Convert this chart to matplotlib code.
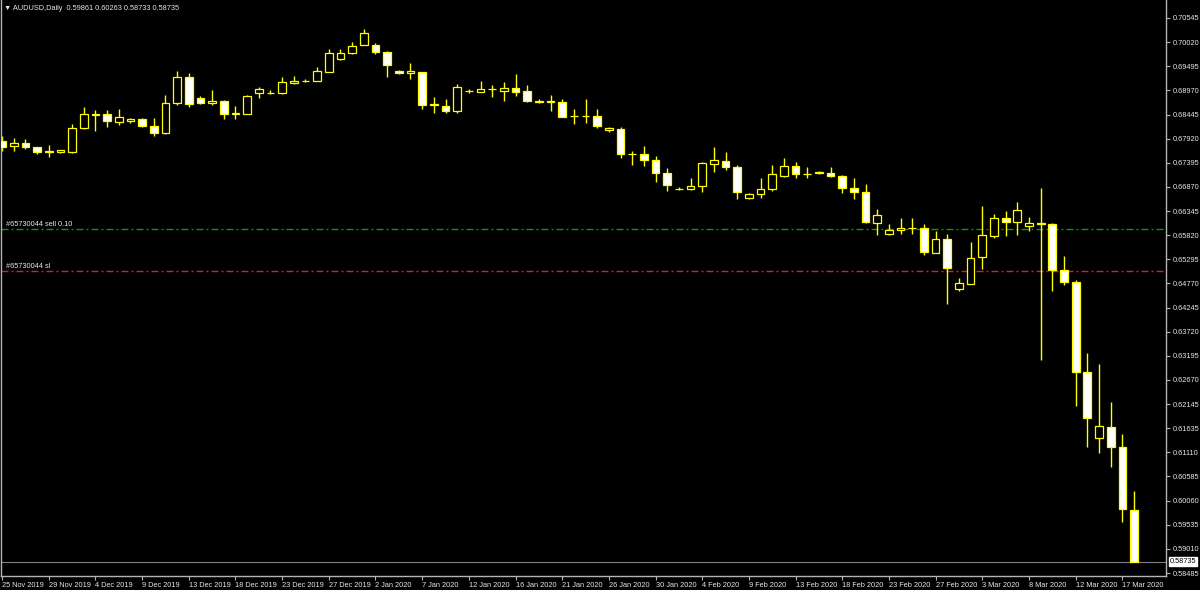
import numpy as np
import matplotlib
matplotlib.use('Agg')
import matplotlib.pyplot as plt

plt.rcParams['font.family'] = ['Liberation Sans', 'DejaVu Sans']

# daily AUDUSD bars, 25 Nov 2019 .. 18 Mar 2020 (broker shows Sunday bars)
opens = [0.67879, 0.67757, 0.67829, 0.67742, 0.67640, 0.67627, 0.67627, 0.68148, 0.68444, 0.68459,
         0.68291, 0.68300, 0.68344, 0.68205, 0.68052, 0.68691, 0.69269, 0.68806, 0.68691, 0.68748,
         0.68461, 0.68465, 0.68909, 0.68922, 0.68909, 0.69126, 0.69176, 0.69183, 0.69378, 0.69647,
         0.69784, 0.69965, 0.69952, 0.69806, 0.69393, 0.69343, 0.69365, 0.68676, 0.68633, 0.68517,
         0.68950, 0.68943, 0.68995, 0.68965, 0.69017, 0.68952, 0.68750, 0.68748, 0.68713, 0.68410,
         0.68405, 0.68409, 0.68111, 0.68139, 0.67590, 0.67583, 0.67453, 0.67170, 0.66835, 0.66836,
         0.66888, 0.67372, 0.67444, 0.67301, 0.66627, 0.66720, 0.66836, 0.67118, 0.67329, 0.67165,
         0.67170, 0.67170, 0.67111, 0.66851, 0.66764, 0.66097, 0.65845, 0.65938, 0.65985, 0.65982,
         0.65445, 0.65736, 0.64656, 0.64771, 0.65358, 0.65814, 0.66205, 0.66118, 0.66018, 0.66080,
         0.66062, 0.65069, 0.64802, 0.62859, 0.61412, 0.61664, 0.61223, 0.59861]
highs = [0.67981, 0.67931, 0.67909, 0.67750, 0.67779, 0.67676, 0.68241, 0.68604, 0.68546, 0.68546,
         0.68561, 0.68372, 0.68365, 0.68365, 0.68872, 0.69393, 0.69356, 0.68843, 0.68980, 0.68760,
         0.68633, 0.68872, 0.69052, 0.68987, 0.69269, 0.69285, 0.69213, 0.69480, 0.69865, 0.69878,
         0.70030, 0.70299, 0.70008, 0.69834, 0.69408, 0.69561, 0.69378, 0.68835, 0.68791, 0.69104,
         0.68996, 0.69176, 0.69089, 0.69161, 0.69321, 0.69089, 0.68778, 0.68872, 0.68791, 0.68561,
         0.68785, 0.68561, 0.68183, 0.68170, 0.67648, 0.67763, 0.67540, 0.67279, 0.66872, 0.67062,
         0.67416, 0.67735, 0.67633, 0.67351, 0.66749, 0.67062, 0.67351, 0.67496, 0.67422, 0.67301,
         0.67220, 0.67313, 0.67133, 0.67062, 0.66938, 0.66388, 0.66062, 0.66192, 0.66205, 0.66069,
         0.65910, 0.65845, 0.64889, 0.65671, 0.66453, 0.66279, 0.66351, 0.66553, 0.66227, 0.66844,
         0.66084, 0.65380, 0.64852, 0.63259, 0.63026, 0.62194, 0.61498, 0.60263]
lows = [0.67661, 0.67661, 0.67705, 0.67583, 0.67518, 0.67618, 0.67605, 0.68133, 0.68096, 0.68183,
        0.68213, 0.68257, 0.68170, 0.67981, 0.68024, 0.68654, 0.68604, 0.68670, 0.68654, 0.68357,
        0.68357, 0.68460, 0.68813, 0.68887, 0.68900, 0.69104, 0.69154, 0.69180, 0.69371, 0.69632,
        0.69756, 0.69952, 0.69756, 0.69269, 0.69334, 0.69219, 0.68561, 0.68474, 0.68474, 0.68487,
        0.68909, 0.68937, 0.68835, 0.68748, 0.68850, 0.68713, 0.68691, 0.68531, 0.68393, 0.68241,
        0.68270, 0.68148, 0.68074, 0.67496, 0.67351, 0.67329, 0.66975, 0.66792, 0.66814, 0.66807,
        0.66770, 0.67205, 0.67242, 0.66605, 0.66618, 0.66640, 0.66792, 0.67096, 0.67062, 0.67075,
        0.67155, 0.67096, 0.66735, 0.66618, 0.66090, 0.65829, 0.65829, 0.65851, 0.65851, 0.65401,
        0.65432, 0.64330, 0.64612, 0.64765, 0.65084, 0.65758, 0.65814, 0.65829, 0.65923, 0.63113,
        0.64619, 0.64743, 0.62120, 0.61229, 0.61085, 0.60795, 0.59586, 0.58733]
closes = [0.67735, 0.67822, 0.67742, 0.67640, 0.67645, 0.67670, 0.68154, 0.68452, 0.68450, 0.68313,
          0.68387, 0.68344, 0.68198, 0.68052, 0.68691, 0.69269, 0.68676, 0.68691, 0.68748, 0.68452,
          0.68470, 0.68843, 0.68996, 0.68909, 0.69148, 0.69183, 0.69180, 0.69393, 0.69778, 0.69778,
          0.69930, 0.70212, 0.69800, 0.69517, 0.69343, 0.69387, 0.68661, 0.68650, 0.68517, 0.69046,
          0.68963, 0.69002, 0.69000, 0.69017, 0.68943, 0.68741, 0.68720, 0.68722, 0.68401, 0.68405,
          0.68412, 0.68198, 0.68148, 0.67583, 0.67585, 0.67459, 0.67170, 0.66916, 0.66825, 0.66894,
          0.67401, 0.67453, 0.67313, 0.66757, 0.66727, 0.66836, 0.67148, 0.67329, 0.67155, 0.67160,
          0.67200, 0.67105, 0.66851, 0.66757, 0.66105, 0.66258, 0.65932, 0.65982, 0.65978, 0.65454,
          0.65736, 0.65119, 0.64780, 0.65336, 0.65823, 0.66205, 0.66118, 0.66366, 0.66084, 0.66075,
          0.65069, 0.64802, 0.62859, 0.61859, 0.61679, 0.61223, 0.59869, 0.58735]

date_labels = ['25 Nov 2019', '29 Nov 2019', '4 Dec 2019', '9 Dec 2019', '13 Dec 2019',
               '18 Dec 2019', '23 Dec 2019', '27 Dec 2019', '2 Jan 2020', '7 Jan 2020',
               '12 Jan 2020', '16 Jan 2020', '21 Jan 2020', '26 Jan 2020', '30 Jan 2020',
               '4 Feb 2020', '9 Feb 2020', '13 Feb 2020', '18 Feb 2020', '23 Feb 2020',
               '27 Feb 2020', '3 Mar 2020', '8 Mar 2020', '12 Mar 2020', '17 Mar 2020']
price_labels = ['0.70545', '0.70020', '0.69495', '0.68970', '0.68445', '0.67920', '0.67395',
                '0.66870', '0.66345', '0.65820', '0.65295', '0.64770', '0.64245', '0.63720',
                '0.63195', '0.62670', '0.62145', '0.61635', '0.61110', '0.60585', '0.60060',
                '0.59535', '0.59010', '0.58485']

sell_price = 0.65960
sl_price = 0.65045
order_no = '#65730044'

YELLOW = '#ffff00'
AXIS = '#b4b4b4'
TXT = '#e6e6e6'
fs = 5.3

fig = plt.figure(figsize=(12, 5.9), dpi=100, facecolor='black')
ax = fig.add_axes([1 / 1200, 14 / 590, 1165 / 1200, 576 / 590], facecolor='black')

x = np.arange(len(opens))
o = np.array(opens)
c = np.array(closes)
bull = c >= o

ax.vlines(x, lows, highs, color=YELLOW, lw=1, zorder=2)
ax.bar(x, np.abs(c - o), bottom=np.minimum(o, c), width=0.66,
       color=np.where(bull, 'black', 'white'), edgecolor=YELLOW, linewidth=0.9, zorder=3)

# order lines
dash = (0, (5, 2.2, 1.4, 2.2))
ax.axhline(sell_price, color='#00a000', lw=1, ls=dash, zorder=1)
ax.axhline(sl_price, color='#ff1010', lw=1, ls=dash, zorder=1)
ax.text(0.3, sell_price + 0.0003, order_no + ' sell 0.10', color=TXT, fontsize=fs, va='bottom', ha='left')
ax.text(0.3, sl_price + 0.0003, order_no + ' sl', color=TXT, fontsize=fs, va='bottom', ha='left')

# current price line + label
ax.axhline(closes[-1], color='#808080', lw=0.8, zorder=1)
ax.text(1.003, closes[-1], '%.5f' % closes[-1], transform=ax.get_yaxis_transform(),
        color='black', fontsize=fs, ha='left', va='center', zorder=5, clip_on=False,
        bbox=dict(facecolor='white', edgecolor='white', pad=0.6))

ax.set_xlim(-0.09, 99.74)
ax.set_ylim(0.58420, 0.70936)

ax.yaxis.tick_right()
ax.set_yticks(np.linspace(0.70545, 0.58485, len(price_labels)))
ax.set_yticklabels(price_labels)
ax.set_xticks(np.arange(0, len(opens), 4))
ax.set_xticklabels(date_labels, ha='left')
ax.tick_params(axis='y', direction='out', length=3, width=0.8, color=AXIS, labelcolor=TXT,
               labelsize=fs, pad=2)
ax.tick_params(axis='x', direction='out', length=3, width=0.8, color=AXIS, labelcolor=TXT,
               labelsize=fs, pad=1)

for side in ['left', 'right', 'bottom']:
    ax.spines[side].set_color(AXIS)
    ax.spines[side].set_linewidth(1)
ax.spines['top'].set_visible(False)

fig.text(4 / 1200, 1 - 8 / 590, '\u25bc AUDUSD,Daily  0.59861 0.60263 0.58733 0.58735',
         color=TXT, fontsize=fs, va='center', ha='left')

plt.savefig('out.png', dpi=100, facecolor='black')
